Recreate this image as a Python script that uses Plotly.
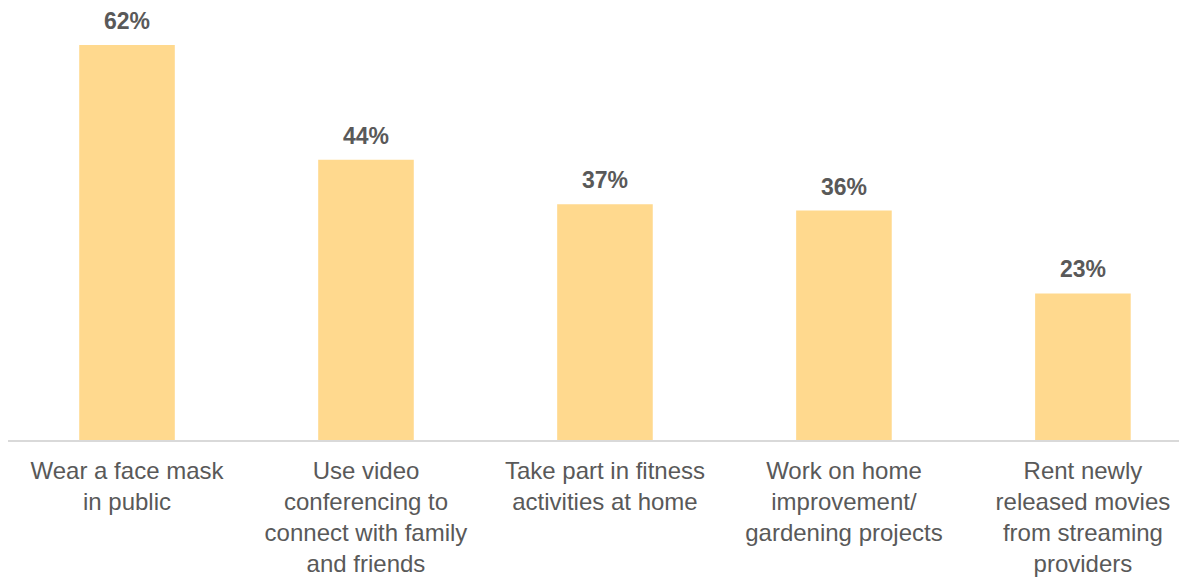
import plotly.graph_objects as go

categories = [
    "Wear a face mask<br>in public",
    "Use video<br>conferencing to<br>connect with family<br>and friends",
    "Take part in fitness<br>activities at home",
    "Work on home<br>improvement/<br>gardening projects",
    "Rent newly<br>released movies<br>from streaming<br>providers",
]
values = [62, 44, 37, 36, 23]
labels = [f"{v}%" for v in values]

xs = list(range(len(categories)))

fig = go.Figure(go.Bar(
    x=xs,
    y=values,
    marker=dict(color="#FFD98E", line=dict(width=0)),
    width=0.4,
    hoverinfo="skip",
))

for x, v, t in zip(xs, values, labels):
    fig.add_annotation(
        x=x, y=v, text=t, showarrow=False,
        yanchor="middle", yshift=24,
        font=dict(family="Liberation Sans, Arial", size=23, color="#595959", weight="bold"),
    )

fig.update_layout(
    width=1187, height=577,
    margin=dict(l=0, r=0, t=0, b=145),
    plot_bgcolor="white", paper_bgcolor="white",
    showlegend=False,
    font=dict(family="Liberation Sans, Arial", color="#595959"),
)
fig.update_xaxes(
    tickmode="array", tickvals=xs, ticktext=categories,
    range=[-0.498, 4.469],
    showline=True, linecolor="#D9D9D9", linewidth=2,
    ticks="outside", ticklen=8, tickcolor="rgba(0,0,0,0)",
    tickfont=dict(size=24, color="#595959"),
    tickangle=0, showgrid=False, zeroline=False,
)
fig.update_yaxes(range=[0, 67.8], visible=False, showgrid=False, zeroline=False)

fig.write_html("out.html")
